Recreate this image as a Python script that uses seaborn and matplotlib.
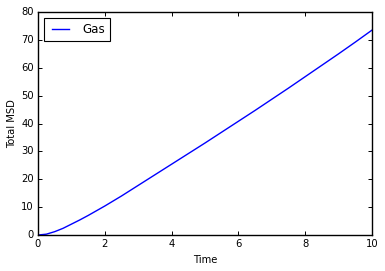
import matplotlib
matplotlib.use("Agg")
import matplotlib.pyplot as plt
import seaborn as sns
import pandas as pd

time = [0, 0.25, 0.5, 0.75, 1.0, 1.25, 1.5, 1.75, 2.0, 2.5, 3.0, 3.5, 4.0, 4.5, 5.0,
        5.5, 6.0, 6.5, 7.0, 7.5, 8.0, 8.5, 9.0, 9.5, 10.0]
msd = [0, 0.3, 1.2, 2.4, 3.9, 5.4, 7.0, 8.7, 10.4, 14.0, 17.8, 21.6, 25.4, 29.2, 33.0,
       36.9, 40.8, 44.7, 48.7, 52.7, 56.8, 60.9, 65.0, 69.2, 73.5]
series = ["Gas"] * len(time)
xticks = [0, 2, 4, 6, 8, 10]
yticks = [0, 10, 20, 30, 40, 50, 60, 70, 80]

plt.style.use("classic")
plt.rcParams["font.family"] = ["DejaVu Sans"]

df = pd.DataFrame({"Time": time, "Total MSD": msd, "series": series})

fig = plt.figure(figsize=(3.85, 2.71), dpi=100, facecolor="white")
ax = fig.add_axes([0.0987, 0.1328, 0.8675, 0.8229])
sns.lineplot(data=df, x="Time", y="Total MSD", hue="series", palette=["b"],
             linewidth=1.0, ax=ax, legend=True)
ax.set_xlim(0, 10)
ax.set_ylim(0, 80)
ax.set_xticks(xticks)
ax.set_yticks(yticks)
ax.tick_params(direction="in", top=True, right=True, length=3, width=0.7,
               labelsize=7.2, pad=3)
ax.set_xlabel("Time", fontsize=7.2, labelpad=4)
ax.set_ylabel("Total MSD", fontsize=7.2, labelpad=3)
for s in ax.spines.values():
    s.set_linewidth(1.0)
leg = ax.legend(loc="upper left", fontsize=8.6, frameon=True, fancybox=False,
                handlelength=2.0, handletextpad=0.8, borderpad=0.4,
                borderaxespad=0.5)
leg.get_frame().set_edgecolor("black")
leg.get_frame().set_linewidth(0.8)
fig.savefig("out.png", dpi=100, facecolor="white")
